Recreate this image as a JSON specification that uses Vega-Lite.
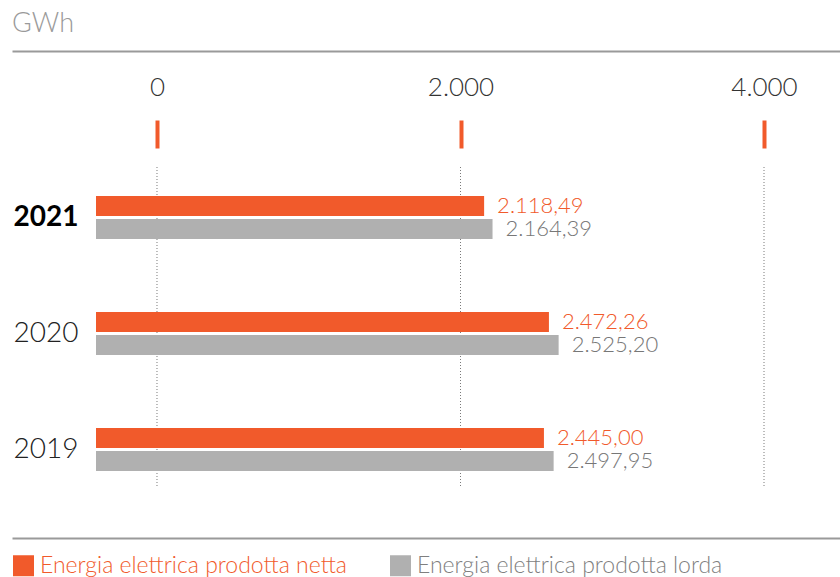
{
  "$schema": "https://vega.github.io/schema/vega-lite/v6.json",
  "autosize": {"type": "none"},
  "width": 828,
  "height": 320,
  "padding": {"left": 12, "top": 167, "right": 0, "bottom": 90},
  "background": "white",
  "config": {
    "view": {"stroke": null},
    "font": "Lato",
    "locale": {"number": {"decimal": ",", "thousands": ".", "grouping": [3], "currency": ["€", ""]}}
  },
  "title": {
    "text": "GWh",
    "anchor": "start",
    "frame": "group",
    "orient": "top",
    "offset": 13,
    "fontSize": 27,
    "font": "Lato",
    "fontWeight": 300,
    "color": "#9a9a9a"
  },
  "datasets": {
    "energia": [
      {"anno": 2021, "serie": "Energia elettrica prodotta netta", "gwh": 2118.49},
      {"anno": 2021, "serie": "Energia elettrica prodotta lorda", "gwh": 2164.39},
      {"anno": 2020, "serie": "Energia elettrica prodotta netta", "gwh": 2472.26},
      {"anno": 2020, "serie": "Energia elettrica prodotta lorda", "gwh": 2525.20},
      {"anno": 2019, "serie": "Energia elettrica prodotta netta", "gwh": 2445.00},
      {"anno": 2019, "serie": "Energia elettrica prodotta lorda", "gwh": 2497.95}
    ],
    "tacche": [{"tick": 0}, {"tick": 2000}, {"tick": 4000}]
  },
  "layer": [
    {
      "data": {"name": "tacche"},
      "mark": {"type": "rule", "color": "#7a7a7a", "strokeWidth": 1, "strokeDash": [1, 2]},
      "encoding": {
        "x": {
          "field": "tick",
          "type": "quantitative",
          "scale": {"domain": [-955.5, 4500.8], "zero": false, "nice": false},
          "axis": {
            "orient": "top",
            "offset": 19,
            "values": [0, 2000, 4000],
            "format": ",d",
            "domain": false,
            "grid": false,
            "ticks": true,
            "tickColor": "#F15A2B",
            "tickWidth": 4,
            "tickSize": 28,
            "labelPadding": 20,
            "labelFontSize": 26,
            "labelFont": "Lato",
            "labelFontWeight": 300,
            "labelColor": "#333333",
            "labelFlush": false,
            "labelOverlap": false,
            "title": null
          }
        }
      }
    },
    {
      "data": {"name": "energia"},
      "mark": {"type": "bar"},
      "encoding": {
        "x": {
          "field": "gwh",
          "type": "quantitative",
          "scale": {"domain": [-458.5, 4061], "zero": false, "nice": false},
          "axis": {
            "orient": "top",
            "offset": 116,
            "domain": true,
            "domainColor": "#9a9a9a",
            "domainWidth": 2,
            "ticks": false,
            "labels": false,
            "grid": false,
            "title": null
          }
        },
        "y": {
          "field": "anno",
          "type": "ordinal",
          "sort": "descending",
          "scale": {"range": [-7.5, 340.5], "paddingInner": 0.63, "paddingOuter": 0.315},
          "axis": {
            "orient": "left",
            "offset": -8,
            "domain": false,
            "ticks": false,
            "labelAlign": "left",
            "labelPadding": 7,
            "labelFontSize": 28,
            "labelFont": "Lato",
            "labelFontWeight": {"condition": {"test": "datum.value == 2021", "value": "bold"}, "value": 300},
            "labelColor": {"condition": {"test": "datum.value == 2021", "value": "#000000"}, "value": "#222222"},
            "title": null
          }
        },
        "yOffset": {
          "field": "serie",
          "type": "nominal",
          "scale": {"domain": ["Energia elettrica prodotta netta", "Energia elettrica prodotta lorda"], "paddingInner": 0.14, "paddingOuter": 0}
        },
        "color": {
          "field": "serie",
          "type": "nominal",
          "scale": {"domain": ["Energia elettrica prodotta netta", "Energia elettrica prodotta lorda"], "range": ["#F15A2B", "#B0B0B0"]},
          "legend": {
            "orient": "none",
            "legendX": 0,
            "legendY": 387,
            "direction": "horizontal",
            "title": null,
            "symbolType": "square",
            "symbolSize": 441,
            "symbolStrokeWidth": 0,
            "symbolOpacity": 1,
            "labelFontSize": 23,
            "labelFont": "Lato",
            "labelFontWeight": 300,
            "labelOffset": 5,
            "columnPadding": 42,
            "labelLimit": 400,
            "encode": {
              "labels": {
                "update": {
                  "fill": {"signal": "datum.label == 'Energia elettrica prodotta netta' ? '#F15A2B' : '#7f7f7f'"}
                }
              }
            }
          }
        }
      }
    },
    {
      "data": {"name": "energia"},
      "mark": {"type": "text", "align": "left", "baseline": "middle", "dx": 13, "fontSize": 22, "font": "Lato", "fontWeight": 300},
      "encoding": {
        "x": {
          "field": "gwh",
          "type": "quantitative",
          "scale": {"domain": [-458.5, 4061], "zero": false, "nice": false},
          "axis": {
            "orient": "bottom",
            "offset": 51,
            "domain": true,
            "domainColor": "#9a9a9a",
            "domainWidth": 2,
            "ticks": false,
            "labels": false,
            "grid": false,
            "title": null
          }
        },
        "y": {"field": "anno", "type": "ordinal", "sort": "descending"},
        "yOffset": {"field": "serie", "type": "nominal"},
        "text": {"field": "gwh", "type": "quantitative", "format": ",.2f"},
        "color": {
          "condition": {"test": "datum.serie == 'Energia elettrica prodotta netta'", "value": "#F15A2B"},
          "value": "#777777"
        }
      }
    }
  ],
  "resolve": {"scale": {"x": "independent"}, "axis": {"x": "independent"}}
}
